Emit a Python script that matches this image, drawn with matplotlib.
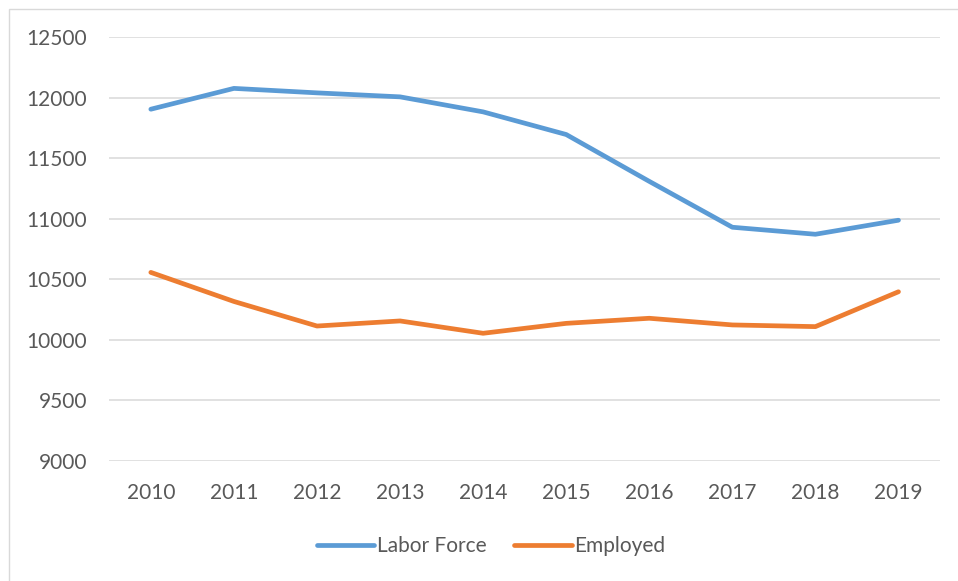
import matplotlib
matplotlib.use("Agg")
import matplotlib.pyplot as plt
from matplotlib.patches import Rectangle

years = ["2010", "2011", "2012", "2013", "2014", "2015", "2016", "2017", "2018", "2019"]
labor_force = [11906, 12078, 12041, 12008, 11884, 11697, 11310, 10931, 10873, 10989]
employed = [10558, 10318, 10115, 10157, 10055, 10137, 10179, 10124, 10110, 10398]
y_ticks = [9000, 9500, 10000, 10500, 11000, 11500, 12000, 12500]

W, H = 958, 581
plt.rcParams['font.family'] = ['Lato', 'DejaVu Sans']
fig = plt.figure(figsize=(W / 100, H / 100), dpi=100)
fig.patch.set_facecolor("white")

# chart area border
fig.patches.append(Rectangle((8.5 / W, -0.1), 1.2, 1 - 8.5 / H + 0.1, transform=fig.transFigure,
                             fill=False, edgecolor="#D9D9D9", linewidth=1.0))

left, right = 109.3 / W, 940 / W
bottom, top = 1 - 461 / H, 1 - 37.3 / H
ax = fig.add_axes([left, bottom, right - left, top - bottom])
ax.set_facecolor("none")

x = list(range(len(years)))
ax.plot(x, labor_force, color="#5B9BD5", linewidth=3.4, solid_capstyle="round",
        solid_joinstyle="round", label="Labor Force")
ax.plot(x, employed, color="#ED7D31", linewidth=3.4, solid_capstyle="round",
        solid_joinstyle="round", label="Employed")

ax.set_xlim(-0.5, len(years) - 0.5)
ax.set_ylim(9000, 12500)
ax.set_yticks(y_ticks)
ax.set_yticklabels([str(v) for v in y_ticks])
ax.set_xticks(x)
ax.set_xticklabels(years)
for s in ax.spines.values():
    s.set_visible(False)
ax.yaxis.grid(True, color="#D9D9D9", linewidth=1.1)
ax.set_axisbelow(True)
ax.tick_params(axis="both", length=0, labelsize=15, labelcolor="#595959")
ax.tick_params(axis="y", pad=16)
ax.tick_params(axis="x", pad=16)

leg = fig.legend(loc="center", bbox_to_anchor=(491 / W, 1 - 546 / H), ncol=2, frameon=False,
                 fontsize=15, handlelength=2.75, handletextpad=0.12, columnspacing=1.35,
                 labelcolor="#595959")

fig.savefig("out.png", dpi=100, facecolor="white")
